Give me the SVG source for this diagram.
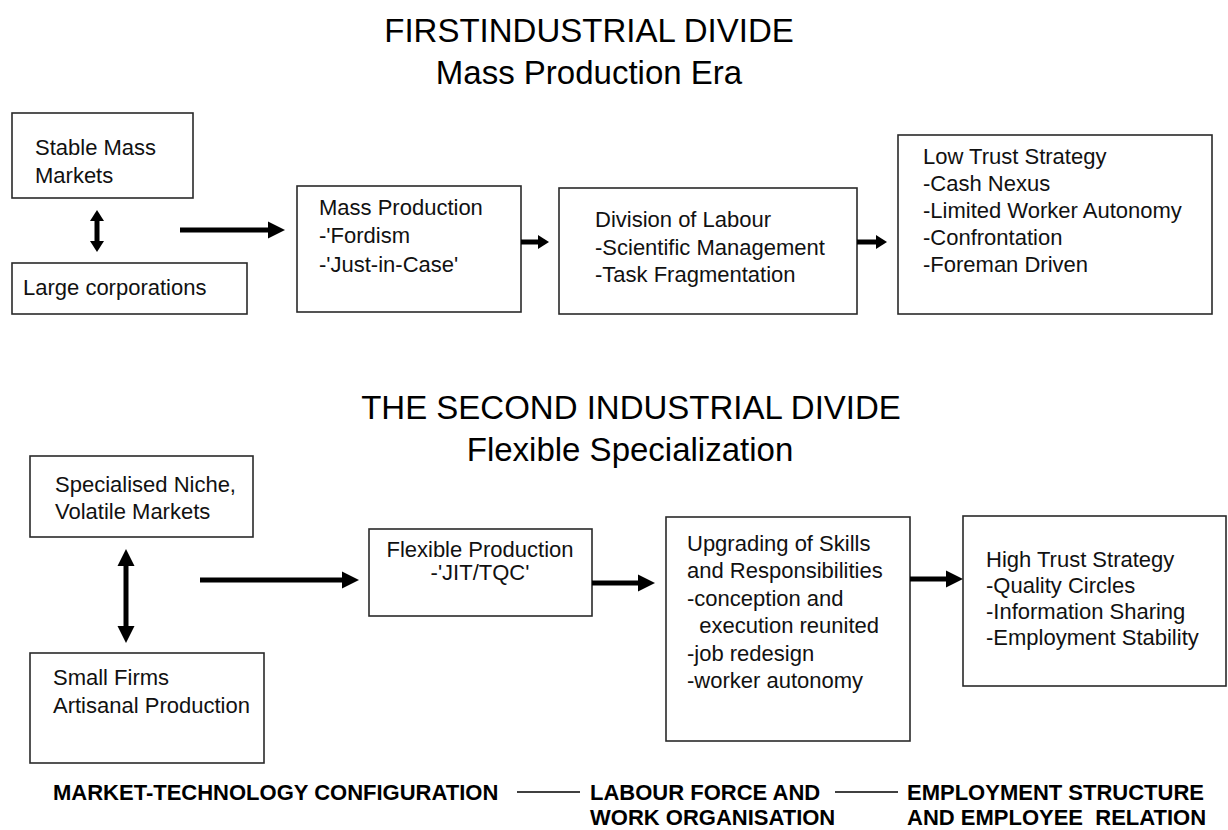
<svg xmlns="http://www.w3.org/2000/svg" width="1228" height="830" viewBox="0 0 1228 830">
  <style>
    .bg { fill: #ffffff; }
    .box { fill: #ffffff; stroke: #2a2a2a; stroke-width: 1.6; }
    .t { font-family: "Liberation Sans", Arial, sans-serif; font-size: 22px; fill: #111111; }
    .title { font-family: "Liberation Sans", Arial, sans-serif; font-size: 33px; fill: #000000; text-anchor: middle; }
    .lbl { font-family: "Liberation Sans", Arial, sans-serif; font-size: 22px; font-weight: bold; fill: #000000; white-space: pre; }
    .arrow { stroke: #000000; stroke-width: 5; fill: none; }
    .rule { stroke: #000000; stroke-width: 1.3; fill: none; }
  </style>
  <defs>
    <marker id="headBig" markerUnits="userSpaceOnUse" viewBox="0 0 17 18" markerWidth="17" markerHeight="18" refX="0" refY="9" orient="auto-start-reverse">
      <path d="M0,0.5 L17,9 L0,17.5 Z" fill="#000000"/>
    </marker>
    <marker id="headSmall" markerUnits="userSpaceOnUse" viewBox="0 0 11 14" markerWidth="11" markerHeight="14" refX="0" refY="7" orient="auto-start-reverse">
      <path d="M0,0 L11,7 L0,14 Z" fill="#000000"/>
    </marker>
  </defs>

  <rect class="bg" x="0" y="0" width="1228" height="830"/>

  <!-- headings -->
  <g id="heading-first">
    <text class="title" x="589" y="42">FIRSTINDUSTRIAL DIVIDE</text>
    <text class="title" x="589" y="84">Mass Production Era</text>
  </g>
  <g id="heading-second">
    <text class="title" x="631" y="419">THE SECOND INDUSTRIAL DIVIDE</text>
    <text class="title" x="630" y="461">Flexible Specialization</text>
  </g>

  <!-- first divide -->
  <g id="stable-mass-markets">
    <rect class="box" x="12" y="113" width="181" height="85"/>
    <text class="t" x="35" y="155">Stable Mass</text>
    <text class="t" x="35" y="183">Markets</text>
  </g>
  <g id="large-corporations">
    <rect class="box" x="12" y="263" width="235" height="51"/>
    <text class="t" x="23" y="295">Large corporations</text>
  </g>
  <g id="mass-production">
    <rect class="box" x="297" y="186" width="224" height="126"/>
    <text class="t" x="319" y="215">Mass Production</text>
    <text class="t" x="319" y="243">-'Fordism</text>
    <text class="t" x="319" y="272">-'Just-in-Case'</text>
  </g>
  <g id="division-of-labour">
    <rect class="box" x="559" y="188" width="298" height="126"/>
    <text class="t" x="595" y="227">Division of Labour</text>
    <text class="t" x="595" y="255">-Scientific Management</text>
    <text class="t" x="595" y="282">-Task Fragmentation</text>
  </g>
  <g id="low-trust-strategy">
    <rect class="box" x="898" y="135" width="314" height="179"/>
    <text class="t" x="923" y="164">Low Trust Strategy</text>
    <text class="t" x="923" y="191">-Cash Nexus</text>
    <text class="t" x="923" y="218">-Limited Worker Autonomy</text>
    <text class="t" x="923" y="245">-Confrontation</text>
    <text class="t" x="923" y="272">-Foreman Driven</text>
  </g>

  <!-- second divide -->
  <g id="specialised-niche">
    <rect class="box" x="30" y="456" width="223" height="81"/>
    <text class="t" x="55" y="492">Specialised Niche,</text>
    <text class="t" x="55" y="519">Volatile Markets</text>
  </g>
  <g id="small-firms">
    <rect class="box" x="30" y="653" width="234" height="110"/>
    <text class="t" x="53" y="685">Small Firms</text>
    <text class="t" x="53" y="713">Artisanal Production</text>
  </g>
  <g id="flexible-production">
    <rect class="box" x="369" y="529" width="223" height="87"/>
    <text class="t" x="480" y="557" text-anchor="middle">Flexible Production</text>
    <text class="t" x="480" y="580" text-anchor="middle">-'JIT/TQC'</text>
  </g>
  <g id="upgrading-skills">
    <rect class="box" x="666" y="517" width="244" height="224"/>
    <text class="t" x="687" y="551">Upgrading of Skills</text>
    <text class="t" x="687" y="578">and Responsibilities</text>
    <text class="t" x="687" y="606">-conception and</text>
    <text class="t" x="687" y="633" xml:space="preserve">  execution reunited</text>
    <text class="t" x="687" y="661">-job redesign</text>
    <text class="t" x="687" y="688">-worker autonomy</text>
  </g>
  <g id="high-trust-strategy">
    <rect class="box" x="963" y="516" width="263" height="170"/>
    <text class="t" x="986" y="567">High Trust Strategy</text>
    <text class="t" x="986" y="593">-Quality Circles</text>
    <text class="t" x="986" y="619">-Information Sharing</text>
    <text class="t" x="986" y="645">-Employment Stability</text>
  </g>

  <!-- connectors -->
  <g id="connectors">
    <path class="arrow" d="M97,221 L97,241" marker-start="url(#headSmall)" marker-end="url(#headSmall)"/>
    <path class="arrow" d="M180,230 L268,230" marker-end="url(#headBig)"/>
    <path class="arrow" d="M521,242 L538,242" marker-end="url(#headSmall)"/>
    <path class="arrow" d="M857,242 L876,242" marker-end="url(#headSmall)"/>

    <path class="arrow" d="M126,566 L126,626" marker-start="url(#headBig)" marker-end="url(#headBig)"/>
    <path class="arrow" d="M200,580 L342,580" marker-end="url(#headBig)"/>
    <path class="arrow" d="M592,583 L638,583" marker-end="url(#headBig)"/>
    <path class="arrow" d="M910,579 L946,579" marker-end="url(#headBig)"/>

    <line class="rule" x1="517" y1="792" x2="580" y2="792"/>
    <line class="rule" x1="835" y1="792" x2="898" y2="792"/>
  </g>

  <!-- column captions -->
  <g id="caption-market">
    <text class="lbl" x="53" y="800">MARKET-TECHNOLOGY CONFIGURATION</text>
  </g>
  <g id="caption-labour">
    <text class="lbl" x="590" y="800">LABOUR FORCE AND</text>
    <text class="lbl" x="590" y="825">WORK ORGANISATION</text>
  </g>
  <g id="caption-employment">
    <text class="lbl" x="907" y="800">EMPLOYMENT STRUCTURE</text>
    <text class="lbl" x="907" y="825" xml:space="preserve">AND EMPLOYEE  RELATION</text>
  </g>
</svg>
